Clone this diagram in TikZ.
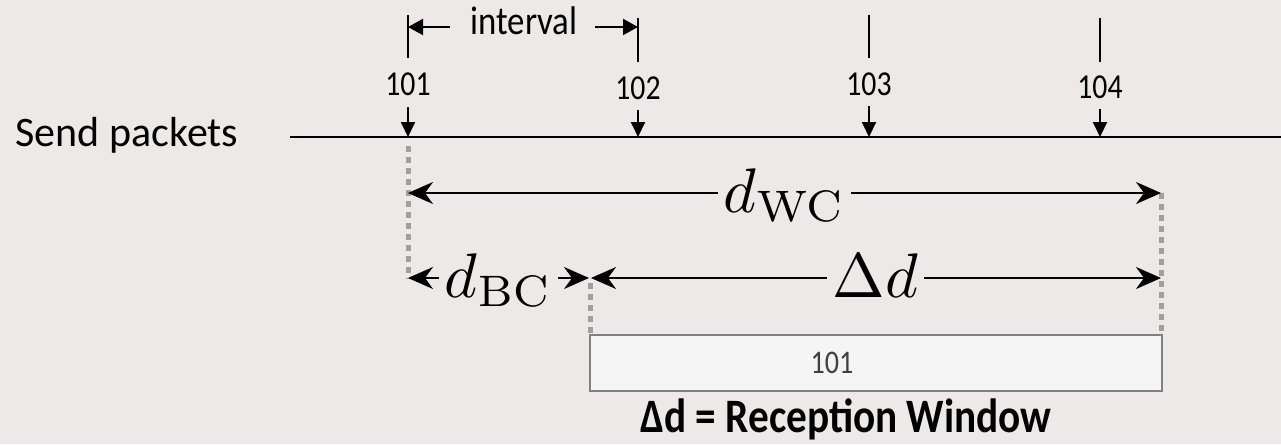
\documentclass[tikz,border=0pt]{standalone}
\usepackage[no-math]{fontspec}
\usepackage{graphicx}
\setmainfont{Carlito}
\newfontfamily\numfont[FakeStretch=0.85]{Carlito}
\newfontfamily\intfont[FakeStretch=0.87]{Carlito}
\newfontfamily\capfont[FakeStretch=0.86]{Carlito}
\usetikzlibrary{arrows.meta}
\definecolor{bg}{HTML}{EEE9E9}
\definecolor{guidegray}{HTML}{A0A0A0}
\definecolor{boxfill}{HTML}{F5F5F5}
\definecolor{boxline}{HTML}{808080}
\definecolor{boxtext}{HTML}{404040}
\newcommand{\bigmath}[1]{\scalebox{6.3}{$#1$}}
\begin{document}
\begin{tikzpicture}[x=1pt,y=-1pt,
  baseline/.style={line width=2pt, black},
  tickarrow/.style={line width=2pt, -{Triangle[length=15pt,width=14pt]}},
  intarrow/.style={line width=2pt, -{Triangle[length=15pt,width=16pt]}},
  dimarrow/.style={line width=2pt, {Stealth[length=25pt,width=22pt,inset=8pt]}-{Stealth[length=25pt,width=22pt,inset=8pt]}},
  guide/.style={line width=5pt, guidegray, dash pattern=on 6pt off 5pt},
  num/.style={font=\numfont\fontsize{35}{35}\selectfont, anchor=base, inner sep=0pt},
  dimlabel/.style={fill=bg, inner xsep=6pt, inner ysep=2pt, anchor=base}
]
\fill[bg] (0,0) rectangle (1281,444);
\useasboundingbox (0,0) rectangle (1281,444);

% send line
\node[anchor=base, inner sep=0pt, font=\fontsize{42}{42}\selectfont] (send) at (127,146) {Send packets};
\coordinate (lineL) at (290,137);
\coordinate (lineR) at (1281,137);
\draw[baseline] (lineL) -- (lineR);

% packet ticks
\foreach \n/\x/\ny/\ay/\bt/\bb in {101/408/95/107/15/58, 102/638/99/110/18/62, 103/869/95/106/15/58, 104/1100/98/109/18/62}{
  \node[num] (p\n) at (\x,\ny) {\n};
  \coordinate (a\n) at (\x,\ay);
  \coordinate (h\n) at (\x,137);
  \coordinate (bt\n) at (\x,\bt);
  \coordinate (bb\n) at (\x,\bb);
  \draw[tickarrow] (a\n) -- (h\n);
  \draw[baseline] (bt\n) -- (bb\n);
}

% interval
\node[anchor=base, inner sep=0pt, font=\intfont\fontsize{40}{40}\selectfont] (interval) at (524,35) {interval};
\coordinate (iL) at (450,27);
\coordinate (iLend) at (408,27);
\coordinate (iR) at (595,27);
\coordinate (iRend) at (638,27);
\draw[intarrow] (iL) -- (iLend);
\draw[intarrow] (iR) -- (iRend);

% guides
\coordinate (g1t) at (408,146);
\coordinate (g1b) at (408,279);
\coordinate (g2t) at (590,283);
\coordinate (g2b) at (590,334);
\coordinate (g3t) at (1161,193);
\coordinate (g3b) at (1161,334);
\draw[guide] (g1t) -- (g1b);
\draw[guide] (g2t) -- (g2b);
\draw[guide] (g3t) -- (g3b);

% dimension arrows
\coordinate (wcL) at (408,193);
\coordinate (wcR) at (1161,193);
\coordinate (bcL) at (408,278);
\coordinate (bcR) at (589,278);
\coordinate (ddL) at (591,278);
\coordinate (ddR) at (1161,278);
\draw[dimarrow] (wcL) -- (wcR);
\draw[dimarrow] (bcL) -- (bcR);
\draw[dimarrow] (ddL) -- (ddR);
\node[dimlabel] (dwc) at (784.5,212) {\bigmath{d_{\mathrm{WC}}}};
\node[dimlabel] (dbc) at (498.5,297) {\bigmath{d_{\mathrm{BC}}}};
\node[dimlabel] (dd) at (875.5,297) {\bigmath{\Delta d}};

% reception window box
\node[draw=boxline, line width=2pt, fill=boxfill, minimum width=572pt, minimum height=56pt, inner sep=0pt] (win) at (876,363) {};
\node[inner sep=0pt, text=boxtext, font=\numfont\fontsize{33}{33}\selectfont] (wintext) at (832,363) {101};
\node[anchor=base, inner sep=0pt, font=\capfont\bfseries\fontsize{48}{48}\selectfont] (caption) at (846,432) {Δd = Reception Window};
\end{tikzpicture}
\end{document}
